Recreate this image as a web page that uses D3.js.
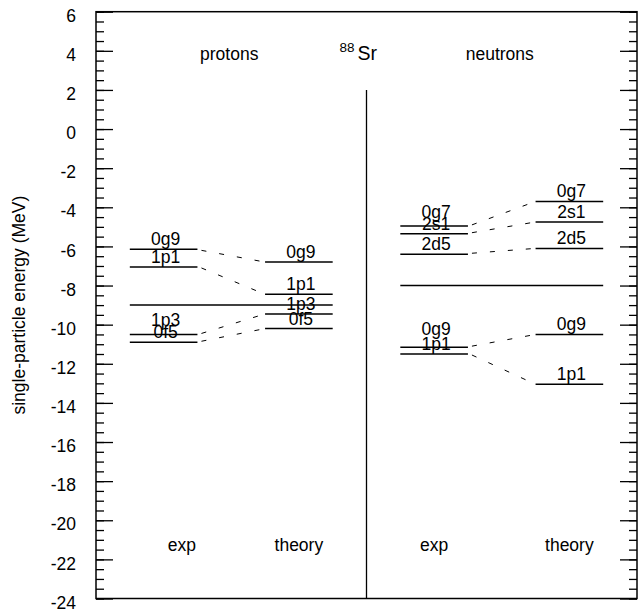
<!DOCTYPE html>
<html>
<head>
<meta charset="utf-8">
<script src="https://cdn.jsdelivr.net/npm/d3@7/dist/d3.min.js"></script>
<style>
  html, body { margin: 0; padding: 0; background: #fff; }
  svg { display: block; font-family: "Liberation Sans", Arial, Helvetica, sans-serif; }
</style>
</head>
<body>
<svg id="chart" width="641" height="612"></svg>
<script>
// Single-particle levels of 88Sr near the Fermi surface (MeV)
const protonLevels = ["0g9", "1p1", "1p3", "0f5"];
const protonExp = [-6.15, -7.05, -10.5, -10.9];
const protonTheory = [-6.8, -8.45, -9.45, -10.2];

const neutronLevels = ["0g7", "2s1", "2d5", "0g9", "1p1"];
const neutronExp = [-4.95, -5.35, -6.4, -11.15, -11.5];
const neutronTheory = [-3.7, -4.75, -6.1, -10.5, -13.05];

// Fermi energies drawn across both columns of each species
const fermiEnergy = [-9.0, -8.0];

const columnLabels = ["exp", "theory", "exp", "theory"];
const speciesLabels = ["protons", "neutrons"];
const yTicks = d3.range(-24, 7, 2);
const yMinorTicks = d3.range(-24, 6.01, 0.5);

const frame = { left: 96, right: 637, top: 11.7, bottom: 598.5 };

const svg = d3.select("#chart");
const y = d3.scaleLinear().domain([-24, 6]).range([frame.bottom, frame.top]);
// horizontal layout in column units: exp/theory columns centred at 1,3 (protons) and 5,7 (neutrons)
const x = d3.scaleLinear().domain([0, 8]).range([frame.left, frame.right]);
const half = 0.5;

// axes
const fmt = d => String(d);
const tickStyle = g => g.selectAll("line").attr("stroke", "#000").attr("stroke-width", 1.3);
svg.append("g")
  .attr("transform", `translate(${frame.left},0)`)
  .call(d3.axisLeft(y).tickValues(yMinorTicks).tickSizeInner(-8).tickSizeOuter(0).tickFormat(""))
  .call(g => g.select(".domain").remove())
  .call(tickStyle);
svg.append("g")
  .attr("transform", `translate(${frame.left},0)`)
  .call(d3.axisLeft(y).tickValues(yTicks).tickSizeInner(-17).tickSizeOuter(0).tickPadding(20).tickFormat(fmt))
  .call(g => g.select(".domain").remove())
  .call(tickStyle)
  .call(g => g.selectAll("text").attr("font-size", 17.5).attr("fill", "#000")
    .attr("font-family", "'Liberation Sans', Arial, sans-serif").attr("dy", "0.55em"));
svg.append("g")
  .attr("transform", `translate(${frame.right},0)`)
  .call(d3.axisRight(y).tickValues(yMinorTicks).tickSizeInner(-8).tickSizeOuter(0).tickFormat(""))
  .call(g => g.select(".domain").remove())
  .call(tickStyle);
svg.append("g")
  .attr("transform", `translate(${frame.right},0)`)
  .call(d3.axisRight(y).tickValues(yTicks).tickSizeInner(-17).tickSizeOuter(0).tickFormat(""))
  .call(g => g.select(".domain").remove())
  .call(tickStyle);

// frame
svg.append("rect")
  .attr("x", frame.left).attr("y", frame.top)
  .attr("width", frame.right - frame.left).attr("height", frame.bottom - frame.top)
  .attr("fill", "none").attr("stroke", "#000").attr("stroke-width", 1.5);

// divider between protons and neutrons
svg.append("line")
  .attr("x1", x(4)).attr("x2", x(4))
  .attr("y1", y(2)).attr("y2", frame.bottom)
  .attr("stroke", "#000").attr("stroke-width", 1.3);

// axis title
svg.append("text")
  .attr("transform", `translate(25,${(frame.top + frame.bottom) / 2}) rotate(-90)`)
  .attr("text-anchor", "middle")
  .attr("font-size", 17.5)
  .text("single-particle energy (MeV)");

// species headers and nucleus
speciesLabels.forEach((s, i) => {
  svg.append("text")
    .attr("x", x(2 + 4 * i) - 2).attr("y", 60)
    .attr("text-anchor", "middle").attr("font-size", 17.5)
    .text(s);
});
const nuc = svg.append("text").attr("x", x(4) - 27).attr("y", 60).attr("font-size", 19.5);
nuc.append("tspan").attr("font-size", 13.5).attr("dy", -8).text("88");
nuc.append("tspan").attr("dy", 8).attr("dx", 3).text("Sr");

// column footers
const footerX = [1.27, 3, 5, 7];
columnLabels.forEach((c, i) => {
  svg.append("text")
    .attr("x", x(footerX[i])).attr("y", 551)
    .attr("text-anchor", "middle").attr("font-size", 17.5)
    .text(c);
});

// Fermi lines
fermiEnergy.forEach((e, i) => {
  svg.append("line")
    .attr("x1", x(1 + 4 * i - half)).attr("x2", x(3 + 4 * i + half))
    .attr("y1", y(e)).attr("y2", y(e))
    .attr("stroke", "#000").attr("stroke-width", 1.5);
});

// extra lift (px) for labels of closely spaced levels, keyed by species/column/level
const labelLift = { "p-exp-1p3": 4, "n-exp-0g7": 4, "n-exp-0g9": 8 };

// level scheme for one species: exp column at c, theory column at c+2
function drawLevels(tag, names, expVals, thVals, c) {
  const g = svg.append("g");
  names.forEach((n, i) => {
    [[expVals[i], c, "exp"], [thVals[i], c + 2, "th"]].forEach(([v, col, kind]) => {
      g.append("line")
        .attr("x1", x(col - half)).attr("x2", x(col + half))
        .attr("y1", y(v)).attr("y2", y(v))
        .attr("stroke", "#000").attr("stroke-width", 1.5);
      const lift = labelLift[`${tag}-${kind}-${n}`] || 0;
      g.append("text")
        .attr("x", x(col) + 2).attr("y", y(v) - 4 - lift)
        .attr("text-anchor", "middle").attr("font-size", 17.5)
        .text(n);
    });
    g.append("line")
      .attr("x1", x(c + half) + 4).attr("x2", x(c + 2 - half))
      .attr("y1", y(expVals[i]) + (thVals[i] < expVals[i] ? 1 : -1))
      .attr("y2", y(thVals[i]))
      .attr("stroke", "#000").attr("stroke-width", 1)
      .attr("stroke-dasharray", "5,13");
  });
}
drawLevels("p", protonLevels, protonExp, protonTheory, 1);
drawLevels("n", neutronLevels, neutronExp, neutronTheory, 5);
</script>
</body>
</html>
